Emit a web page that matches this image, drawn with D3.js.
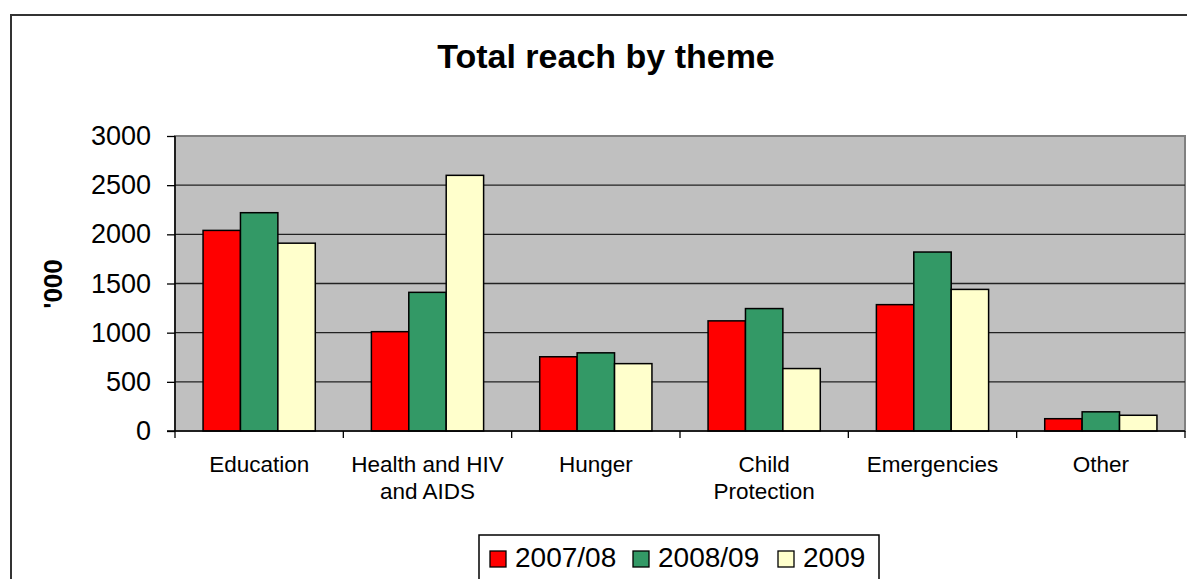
<!DOCTYPE html>
<html>
<head>
<meta charset="utf-8">
<script src="https://cdn.jsdelivr.net/npm/d3@7"></script>
<style>
  body { margin: 0; background: #fff; }
  svg { display: block; font-family: "Liberation Sans", Arial, sans-serif; }
</style>
</head>
<body>
<svg id="chart" width="1187" height="579"></svg>
<script>
const themes = [ "Education", "Health and HIV and AIDS", "Hunger", "Child Protection", "Emergencies", "Other" ];
const themeLines = [ [ "Education" ], [ "Health and HIV", "and AIDS" ], [ "Hunger" ], [ "Child", "Protection" ], [ "Emergencies" ], [ "Other" ] ];
const seriesNames = [ "2007/08", "2008/09", "2009" ];
const reach0708 = [ 2040, 1010, 755, 1120, 1285, 125 ];
const reach0809 = [ 2220, 1410, 795, 1245, 1820, 195 ];
const reach2009 = [ 1910, 2600, 685, 635, 1440, 160 ];
const yTicks = [ 0, 500, 1000, 1500, 2000, 2500, 3000 ];
const colors = [ "#ff0000", "#339966", "#ffffcc" ];

const values = [ reach0708, reach0809, reach2009 ];
const data = themes.map( ( t, i ) => ( {
  theme: t,
  lines: themeLines[i],
  vals: seriesNames.map( ( s, j ) => ( { series: s, value: values[j][i], color: colors[j] } ) ),
} ) );

const svg = d3.select( "#chart" );
const M = { left: 175, right: 1185, top: 136, bottom: 431 };

// outer chart frame
svg.append( "rect" )
  .attr( "x", 11 ).attr( "y", 15 )
  .attr( "width", 1200 ).attr( "height", 600 )
  .attr( "fill", "#fff" ).attr( "stroke", "#333" ).attr( "stroke-width", 2 );

svg.append( "text" )
  .attr( "x", 606 ).attr( "y", 68 )
  .attr( "text-anchor", "middle" )
  .attr( "font-size", 34 ).attr( "font-weight", "bold" )
  .text( "Total reach by theme" );

const x0 = d3.scaleBand().domain( themes ).range( [ M.left, M.right ] ).padding( 0 );
const x1 = d3.scaleBand().domain( seriesNames ).range( [ 0, x0.bandwidth() ] ).paddingInner( 0 ).paddingOuter( 0.75 );
const y = d3.scaleLinear().domain( [ 0, 3000 ] ).range( [ M.bottom, M.top ] );

// plot area
svg.append( "rect" )
  .attr( "x", M.left ).attr( "y", M.top )
  .attr( "width", M.right - M.left ).attr( "height", M.bottom - M.top )
  .attr( "fill", "#c0c0c0" ).attr( "stroke", "#808080" ).attr( "stroke-width", 2 );

// gridlines
svg.append( "g" )
  .selectAll( "line" )
  .data( yTicks.filter( d => d > 0 && d < 3000 ) )
  .join( "line" )
  .attr( "x1", M.left ).attr( "x2", M.right )
  .attr( "y1", d => y( d ) ).attr( "y2", d => y( d ) )
  .attr( "stroke", "#222" ).attr( "stroke-width", 1.3 );

// bars
svg.append( "g" )
  .selectAll( "g" )
  .data( data )
  .join( "g" )
  .attr( "transform", d => `translate(${x0( d.theme )},0)` )
  .selectAll( "rect" )
  .data( d => d.vals )
  .join( "rect" )
  .attr( "x", d => x1( d.series ) )
  .attr( "y", d => y( d.value ) )
  .attr( "width", x1.bandwidth() )
  .attr( "height", d => y( 0 ) - y( d.value ) )
  .attr( "fill", d => d.color )
  .attr( "stroke", "#000" ).attr( "stroke-width", 1.5 );

// y axis
const yAxis = d3.axisLeft( y ).tickValues( yTicks ).tickSize( 8 ).tickPadding( 16 ).tickFormat( d3.format( "d" ) );
const gy = svg.append( "g" )
  .attr( "transform", `translate(${M.left},0)` )
  .call( yAxis );
gy.select( ".domain" ).attr( "stroke", "#000" ).attr( "stroke-width", 1.5 ).attr( "d", `M0,${M.top}V${M.bottom}` );
gy.selectAll( ".tick line" ).attr( "stroke", "#000" ).attr( "stroke-width", 1.3 );
gy.selectAll( ".tick text" ).attr( "font-size", 27 ).attr( "font-family", "Liberation Sans, Arial, sans-serif" ).attr( "fill", "#000" );

// x axis with ticks at category boundaries
const boundaries = themes.map( t => x0( t ) ).concat( [ M.right ] );
const gx = svg.append( "g" );
gx.append( "line" )
  .attr( "x1", M.left - 8 ).attr( "x2", M.right )
  .attr( "y1", M.bottom ).attr( "y2", M.bottom )
  .attr( "stroke", "#000" ).attr( "stroke-width", 1.5 );
gx.selectAll( "line.tk" )
  .data( boundaries )
  .join( "line" )
  .attr( "class", "tk" )
  .attr( "x1", d => d ).attr( "x2", d => d )
  .attr( "y1", M.bottom ).attr( "y2", M.bottom + 7 )
  .attr( "stroke", "#000" ).attr( "stroke-width", 1.3 );

const labels = gx.selectAll( "text" )
  .data( data )
  .join( "text" )
  .attr( "text-anchor", "middle" )
  .attr( "font-size", 22.5 )
  .attr( "x", d => x0( d.theme ) + x0.bandwidth() / 2 )
  .attr( "y", 472 );
labels.selectAll( "tspan" )
  .data( d => d.lines.map( l => ( { l, x: x0( d.theme ) + x0.bandwidth() / 2 } ) ) )
  .join( "tspan" )
  .attr( "x", d => d.x )
  .attr( "dy", ( d, i ) => i === 0 ? 0 : 27 )
  .text( d => d.l );

// y axis title
svg.append( "text" )
  .attr( "transform", "translate(62,284) rotate(-90)" )
  .attr( "text-anchor", "middle" )
  .attr( "font-size", 26 ).attr( "font-weight", "bold" )
  .text( "'000" );

// legend
const legend = svg.append( "g" );
legend.append( "rect" )
  .attr( "x", 479 ).attr( "y", 535 )
  .attr( "width", 400 ).attr( "height", 60 )
  .attr( "fill", "#fff" ).attr( "stroke", "#000" ).attr( "stroke-width", 1.5 );
const legendX = [ 490, 633, 778 ];
const items = legend.selectAll( "g" )
  .data( seriesNames )
  .join( "g" )
  .attr( "transform", ( d, i ) => `translate(${legendX[i]},551)` );
items.append( "rect" )
  .attr( "width", 16 ).attr( "height", 16 )
  .attr( "fill", ( d, i ) => colors[i] )
  .attr( "stroke", "#000" ).attr( "stroke-width", 1.3 );
items.append( "text" )
  .attr( "x", 25 ).attr( "y", 16 )
  .attr( "font-size", 28 )
  .text( d => d );
</script>
</body>
</html>
